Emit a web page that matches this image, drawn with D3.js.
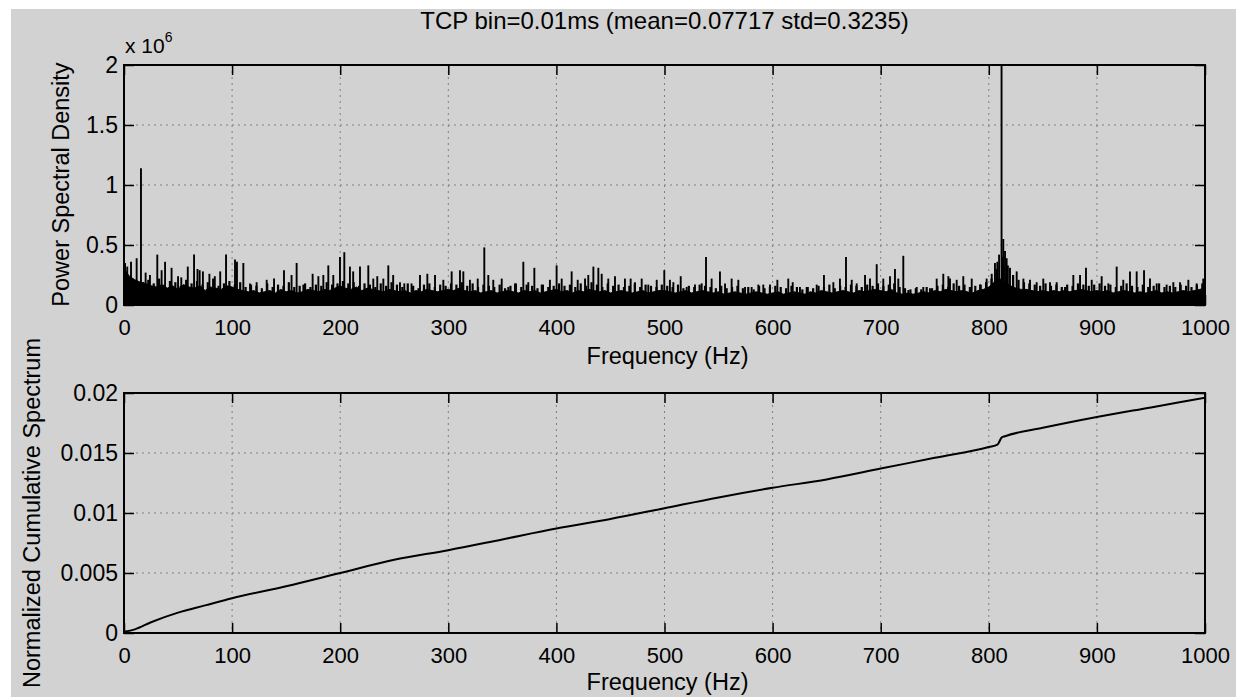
<!DOCTYPE html>
<html><head><meta charset="utf-8">
<script src="https://cdn.jsdelivr.net/npm/d3@7"></script>
<style>
body{margin:0;background:#fff;}
svg text{font-family:"Liberation Sans",Arial,Helvetica,sans-serif;fill:#000;}
</style>
</head><body>
<svg id="chart" width="1236" height="697"></svg>
<script>
// ---------- data ----------
const title = "TCP bin=0.01ms (mean=0.07717 std=0.3235)";
const xLabel = "Frequency (Hz)";
const psdLabel = "Power Spectral Density";
const cumLabel = "Normalized Cumulative Spectrum";
const freqTicks = [0,100,200,300,400,500,600,700,800,900,1000];
const psdTicks = [0,0.5,1,1.5,2];            // x 10^6
const psdTickLabels = ["0","0.5","1","1.5","2"];
const cumTicks = [0,0.005,0.01,0.015,0.02];
const cumTickLabels = ["0","0.005","0.01","0.015","0.02"];

// solid noise floor of the PSD, every 5 Hz from 0 to 1000 (units of 1e6)
const floorStepHz = 5;
const psdFloor = [
 0.30,0.24,0.21,0.19,0.18,0.16,0.15,0.17,0.14,0.16,0.13,0.17,0.15,0.14,0.16,0.12,0.15,0.14,0.13,0.16,
 0.15,0.13,0.12,0.11,0.12,0.10,0.11,0.12,0.10,0.13,0.11,0.12,0.10,0.11,0.13,0.12,0.11,0.13,0.12,0.14,
 0.16,0.14,0.13,0.15,0.12,0.14,0.13,0.12,0.11,0.13,0.12,0.11,0.12,0.10,0.12,0.11,0.13,0.12,0.11,0.12,
 0.13,0.12,0.14,0.12,0.11,0.12,0.10,0.11,0.12,0.10,0.11,0.12,0.11,0.10,0.12,0.11,0.12,0.10,0.11,0.12,
 0.13,0.11,0.12,0.10,0.12,0.11,0.13,0.12,0.11,0.12,0.10,0.11,0.12,0.11,0.10,0.11,0.12,0.10,0.11,0.12,
 0.12,0.11,0.10,0.11,0.12,0.10,0.11,0.12,0.11,0.10,0.11,0.09,0.10,0.11,0.10,0.09,0.10,0.11,0.10,0.09,
 0.10,0.11,0.09,0.10,0.11,0.10,0.09,0.11,0.10,0.12,0.11,0.10,0.11,0.12,0.11,0.10,0.12,0.11,0.12,0.13,
 0.12,0.11,0.13,0.10,0.09,0.10,0.09,0.10,0.11,0.10,0.12,0.11,0.13,0.12,0.11,0.12,0.11,0.10,0.12,0.13,
 0.15,0.19,0.22,0.19,0.16,0.14,0.13,0.13,0.12,0.11,0.12,0.11,0.12,0.11,0.12,0.11,0.12,0.13,0.12,0.11,
 0.12,0.11,0.12,0.10,0.11,0.12,0.11,0.10,0.11,0.10,0.11,0.12,0.10,0.11,0.10,0.11,0.12,0.11,0.12,0.13,
 0.14
];
// jagged teeth on top of the floor, at 2.5, 7.5, ... 997.5 Hz (units of 1e6)
const teethOffsetHz = 2.5;
const psdTeeth = [
 0.28,0.22,0.20,0.19,0.21,0.18,0.22,0.17,0.20,0.19,0.16,0.21,0.18,0.20,0.17,0.19,0.22,0.16,0.18,0.20,
 0.17,0.19,0.15,0.17,0.16,0.14,0.18,0.15,0.17,0.16,0.19,0.15,0.16,0.18,0.15,0.17,0.16,0.19,0.17,0.18,
 0.20,0.18,0.19,0.16,0.18,0.17,0.15,0.18,0.16,0.19,0.17,0.15,0.18,0.16,0.14,0.17,0.18,0.15,0.17,0.16,
 0.18,0.17,0.19,0.16,0.18,0.15,0.17,0.16,0.15,0.17,0.14,0.16,0.18,0.15,0.17,0.16,0.14,0.17,0.15,0.16,
 0.18,0.16,0.17,0.15,0.18,0.16,0.19,0.17,0.15,0.18,0.16,0.17,0.15,0.16,0.18,0.15,0.17,0.16,0.15,0.17,
 0.16,0.15,0.17,0.14,0.16,0.15,0.17,0.16,0.15,0.14,0.16,0.14,0.15,0.16,0.14,0.15,0.13,0.16,0.14,0.15,
 0.16,0.15,0.14,0.16,0.15,0.13,0.15,0.14,0.16,0.15,0.17,0.14,0.16,0.15,0.17,0.16,0.15,0.17,0.16,0.18,
 0.16,0.17,0.18,0.15,0.14,0.13,0.14,0.13,0.15,0.14,0.16,0.17,0.15,0.18,0.16,0.17,0.15,0.16,0.17,0.19,
 0.22,0.30,0.40,0.33,0.25,0.21,0.19,0.18,0.17,0.16,0.18,0.16,0.17,0.15,0.17,0.16,0.18,0.17,0.16,0.17,
 0.18,0.16,0.17,0.15,0.16,0.18,0.16,0.15,0.17,0.15,0.16,0.18,0.15,0.16,0.15,0.17,0.16,0.15,0.17,0.18
];

// individual PSD peaks (frequency in Hz, value in 1e6)
const spikeHz = [
 1,3,6.5,11.7,15.7,20,24,30.8,34.8,38,44,50,53,59,64.8,68,70,73,79,84,89,94.4,102.7,104.5,110.4,116.6,122.7,132,138.8,148,
 155,159.7,165.9,174.5,179.8,184.4,189,193.6,199.8,203.8,209,212,218.3,226,230.6,234.3,239.9,244.5,249,
 255.3,259.3,266,273.8,280.6,287.7,295.4,303.1,310.8,313.9,320,327.2,333.3,337,341.6,349.4,355.5,361.7,369.4,374,379.6,386.4,394,
 400.2,404.9,414.1,419.7,426.5,429.5,434.2,438.8,441.9,448,454.2,463.4,468.7,472.7,478.9,485,492.8,499.8,505,
 508.2,515,520.5,528.2,534.4,538.4,543.6,551.3,556,562.1,568.3,574.5,580.6,586.8,591.4,597.6,604.4,614.5,618.6,625.3,631.5,
 640.8,647.5,656.2,662.3,667.9,673.2,677.8,685.5,690.1,696.3,702.4,708.6,713.2,716.3,720.9,725.6,733.3,739.4,745.6,751.8,757.9,762.6,
 764.1,770.3,776.4,784.2,791.9,798,802.7,805.7,807.9,809.5,811.8,813.4,815,816.5,819.6,825.8,832,838.1,844.3,850.4,856.6,862.8,870.5,878.2,884.4,889.9,895.2,
 904.4,910.6,918.3,924.4,930.6,936.8,943.6,949.1,955.3,964.5,970.7,976.9,984.6,992.3,998.4
];
const spikeVal = [
 0.35,0.32,0.36,0.39,1.14,0.27,0.25,0.42,0.29,0.36,0.31,0.24,0.23,0.32,0.42,0.30,0.29,0.28,0.26,0.24,0.28,0.42,0.38,0.36,0.35,0.18,0.19,0.21,0.22,0.29,
 0.25,0.35,0.17,0.26,0.24,0.25,0.33,0.25,0.40,0.44,0.32,0.28,0.32,0.33,0.22,0.24,0.22,0.33,0.25,
 0.19,0.18,0.18,0.25,0.26,0.25,0.21,0.28,0.29,0.28,0.21,0.22,0.48,0.25,0.21,0.22,0.15,0.18,0.36,0.19,0.31,0.17,0.21,
 0.33,0.22,0.28,0.21,0.22,0.25,0.32,0.31,0.26,0.22,0.24,0.22,0.22,0.19,0.22,0.17,0.21,0.29,0.21,
 0.19,0.24,0.15,0.17,0.18,0.40,0.22,0.28,0.18,0.22,0.21,0.15,0.15,0.17,0.17,0.17,0.21,0.22,0.19,0.15,0.15,
 0.17,0.25,0.19,0.22,0.40,0.21,0.18,0.25,0.22,0.34,0.22,0.24,0.30,0.22,0.41,0.125,0.15,0.15,0.14,0.22,0.26,0.24,
 0.22,0.21,0.24,0.22,0.17,0.22,0.26,0.35,0.36,0.42,2.2,0.55,0.45,0.39,0.31,0.28,0.22,0.21,0.19,0.22,0.19,0.19,0.15,0.25,0.25,0.31,0.21,
 0.24,0.18,0.32,0.21,0.28,0.28,0.29,0.22,0.18,0.17,0.19,0.19,0.21,0.18,0.22
];

// normalized cumulative spectrum
const cumHz  = [0,10,25,50,75,100,150,200,250,300,350,400,450,500,550,600,650,700,750,800,808,812,815,850,900,950,1000];
const cumVal = [0.0001,0.0003,0.0009,0.0017,0.0023,0.0029,0.0039,0.0050,0.0061,0.0069,0.0078,0.0087,0.0095,0.0104,0.0113,
                0.0121,0.0128,0.0137,0.0146,0.0155,0.0157,0.0163,0.0164,0.0171,0.0180,0.0188,0.0196];

// ---------- drawing ----------
const svg = d3.select("#chart");
svg.append("rect").attr("width",1236).attr("height",697).attr("fill","#fff");
svg.append("rect").attr("x",11).attr("y",9).attr("width",1225).attr("height",688).attr("fill","#d2d2d2");

const L = 124, R = 1205;
const x = d3.scaleLinear().domain([0,1000]).range([L,R]);
const yTop = d3.scaleLinear().domain([0,2]).range([305,65]);
const yBot = d3.scaleLinear().domain([0,0.02]).range([633,393]);
const FONT = "Liberation Sans, Arial, sans-serif";

function panel(y, yt, id){
  const y0 = y.range()[0], y1 = y.range()[1];
  const g = svg.append("g");
  g.selectAll(".vg").data(freqTicks.slice(1,-1)).join("line")
    .attr("x1",d=>x(d)).attr("x2",d=>x(d)).attr("y1",y1).attr("y2",y0)
    .attr("stroke","#808080").attr("stroke-width",1).attr("stroke-dasharray","2,4");
  g.selectAll(".hg").data(yt.slice(1,-1)).join("line")
    .attr("x1",L).attr("x2",R).attr("y1",d=>y(d)).attr("y2",d=>y(d))
    .attr("stroke","#808080").attr("stroke-width",1).attr("stroke-dasharray","2,4");
  svg.append("clipPath").attr("id",id).append("rect")
    .attr("x",L).attr("y",y1).attr("width",R-L).attr("height",y0-y1);
}
function frame(y, yt, ytl){
  const y0 = y.range()[0], y1 = y.range()[1];
  const g = svg.append("g");
  const tl = 10;
  g.append("g").attr("transform",`translate(0,${y0})`)
    .call(d3.axisBottom(x).tickValues(freqTicks).tickSize(-tl).tickPadding(14).tickFormat(d3.format("d")))
    .call(s=>{s.select(".domain").remove();
      s.selectAll("line").attr("stroke","#000").attr("stroke-width",1.5);
      s.selectAll("text").attr("font-size",22).attr("dy","0.71em").attr("font-family",FONT);});
  g.append("g").attr("transform",`translate(0,${y1})`)
    .call(d3.axisTop(x).tickValues(freqTicks).tickSize(-tl).tickFormat(""))
    .call(s=>{s.select(".domain").remove(); s.selectAll("line").attr("stroke","#000").attr("stroke-width",1.5);});
  g.append("g").attr("transform",`translate(${L},0)`)
    .call(d3.axisLeft(y).tickValues(yt).tickSize(-tl).tickPadding(6).tickFormat((d,i)=>ytl[i]))
    .call(s=>{s.select(".domain").remove();
      s.selectAll("line").attr("stroke","#000").attr("stroke-width",1.5);
      s.selectAll("text").attr("font-size",23).attr("font-family",FONT);});
  g.append("g").attr("transform",`translate(${R},0)`)
    .call(d3.axisRight(y).tickValues(yt).tickSize(-tl).tickFormat(""))
    .call(s=>{s.select(".domain").remove(); s.selectAll("line").attr("stroke","#000").attr("stroke-width",1.5);});
  g.append("rect").attr("x",L).attr("y",y1).attr("width",R-L).attr("height",y0-y1)
    .attr("fill","none").attr("stroke","#000").attr("stroke-width",2);
}

// ----- top panel: PSD -----
panel(yTop, psdTicks, "clipTop");
const psdG = svg.append("g").attr("clip-path","url(#clipTop)");
const floorPts = psdFloor.map((v,i)=>[i*floorStepHz, v]);
psdG.append("path").datum(floorPts)
  .attr("d", d3.area().x(d=>x(d[0])).y0(yTop(0)).y1(d=>yTop(d[1])))
  .attr("fill","#000").attr("stroke","#000").attr("stroke-width",1);
psdG.selectAll(".tooth").data(psdTeeth.map((v,i)=>[teethOffsetHz+i*floorStepHz, v])).join("line")
  .attr("x1",d=>x(d[0])).attr("x2",d=>x(d[0]))
  .attr("y1",yTop(0)).attr("y2",d=>yTop(d[1]))
  .attr("stroke","#000").attr("stroke-width",2.2);
psdG.selectAll(".sp").data(spikeHz.map((h,i)=>[h,spikeVal[i]])).join("line")
  .attr("x1",d=>x(d[0])).attr("x2",d=>x(d[0]))
  .attr("y1",yTop(0)).attr("y2",d=>yTop(d[1]))
  .attr("stroke","#000").attr("stroke-width",1.9);
frame(yTop, psdTicks, psdTickLabels);

// ----- bottom panel: cumulative -----
panel(yBot, cumTicks, "clipBot");
svg.append("g").attr("clip-path","url(#clipBot)").append("path")
  .datum(cumHz.map((h,i)=>[h,cumVal[i]]))
  .attr("d", d3.line().x(d=>x(d[0])).y(d=>yBot(d[1])).curve(d3.curveMonotoneX))
  .attr("fill","none").attr("stroke","#000").attr("stroke-width",2);
frame(yBot, cumTicks, cumTickLabels);

// ----- texts -----
svg.append("text").attr("x",(L+R)/2).attr("y",29).attr("text-anchor","middle")
  .attr("font-size",24).text(title);
svg.append("text").attr("x",(L+R)/2+3).attr("y",364).attr("text-anchor","middle")
  .attr("font-size",23.5).text(xLabel);
svg.append("text").attr("x",(L+R)/2+3).attr("y",690).attr("text-anchor","middle")
  .attr("font-size",23.5).text(xLabel);
svg.append("text").attr("transform",`translate(69,${(62+307)/2}) rotate(-90)`).attr("text-anchor","middle")
  .attr("font-size",23.5).text(psdLabel);
svg.append("text").attr("transform",`translate(40,513) rotate(-90)`).attr("text-anchor","middle")
  .attr("font-size",23.5).text(cumLabel);
const ex = svg.append("text").attr("x",125).attr("y",53).attr("font-size",21);
ex.append("tspan").text("x 10");
ex.append("tspan").attr("dy",-11).attr("font-size",14).text("6");
</script>
</body></html>
